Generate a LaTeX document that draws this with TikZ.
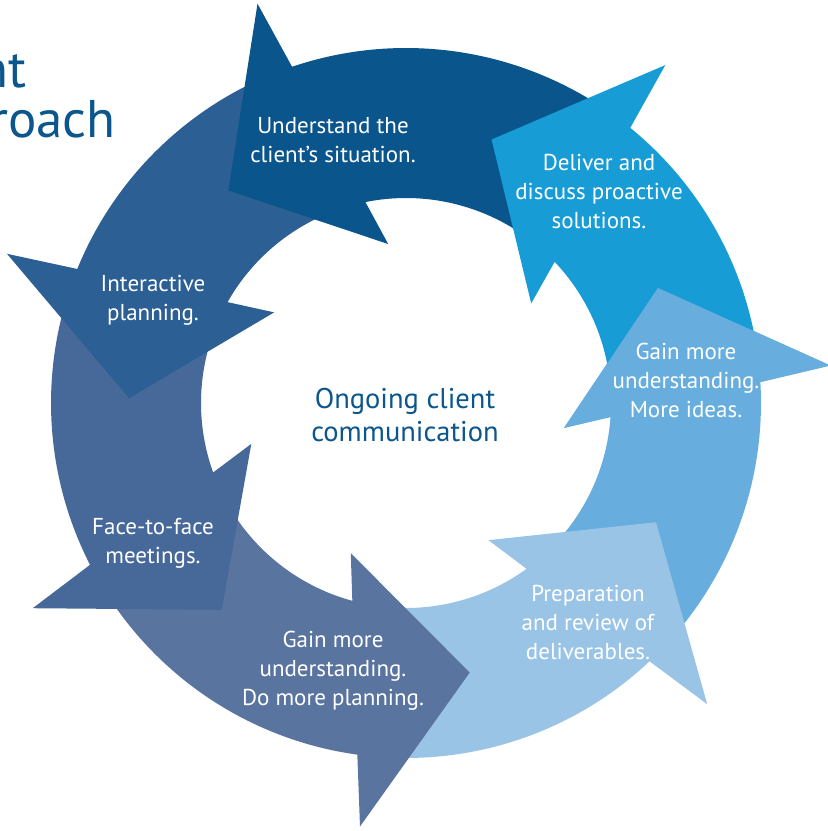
\documentclass[tikz,border=0pt]{standalone}
\usepackage{fontspec}
\setmainfont{PT Sans}
\definecolor{cUnd}{HTML}{0A558C}
\definecolor{cInt}{HTML}{2C5F94}
\definecolor{cFace}{HTML}{46699A}
\definecolor{cBot}{HTML}{5A74A0}
\definecolor{cPrep}{HTML}{9AC4E6}
\definecolor{cGain}{HTML}{67AEDE}
\definecolor{cDel}{HTML}{189CD6}
\definecolor{cText}{HTML}{0B568C}
% #1 base angle, #2 base angle of clockwise neighbour, #3 colour
\newcommand{\RingArrow}[3]{%
  \fill[#3, shift={(406,428)}] ({#1+4}:426) -- ({#1+23.5}:277) -- ({#1-10}:160) -- ({#1-4.98}:205)
    arc[start angle={#1-4.98}, end angle={#2+3}, radius=205]
    -- ({#2+8}:355)
    arc[start angle={#2+8}, end angle={#1+2.32}, radius=355] -- cycle;}
\newcommand{\RingHead}[2]{%
  \fill[#2, shift={(406,428)}] ({#1+4}:426) -- ({#1+23.5}:277) -- ({#1-10}:160) -- cycle;}
\tikzset{
  lbl/.style={text=white, align=center, inner sep=0pt, font=\fontsize{23}{29}\selectfont},
  ctr/.style={text=cText, align=center, inner sep=0pt, font=\fontsize{28.5}{33}\selectfont},
  ttl/.style={text=cText, inner sep=0pt, anchor=base east, font=\fontsize{53}{50}\selectfont}
}
\begin{document}
\begin{tikzpicture}[x=1pt,y=1pt]
\useasboundingbox[fill=white] (0,0) rectangle (828,831);
\RingArrow{1.05}{-49}{cGain}
\RingArrow{311}{259.8}{cPrep}
\RingArrow{259.8}{204.8}{cBot}
\RingArrow{204.8}{155.5}{cFace}
\RingArrow{155.5}{106.4}{cInt}
\RingArrow{106.4}{48.5}{cUnd}
\RingArrow{48.5}{1.05}{cDel}
\RingHead{1.05}{cGain}
\node[lbl] (und) at (333,691) {Understand the\\client’s situation.};
\node[lbl] (del) at (599,639.5) {Deliver and\\discuss proactive\\solutions.};
\node[lbl] (gain) at (686,451) {Gain more\\understanding.\\More ideas.};
\node[lbl] (prep) at (588,209) {Preparation\\and review of\\deliverables.};
\node[lbl] (bot) at (333,160) {Gain more\\understanding.\\Do more planning.};
\node[lbl] (face) at (153,287.5) {Face-to-face\\meetings.};
\node[lbl] (inter) at (153,531) {Interactive\\planning.};
\node[ctr] (center) at (405,415.5) {Ongoing client\\communication};
\node[ttl] (t1) at (27,743) {nt};
\node[ttl] (t2) at (116,693) {roach};
\end{tikzpicture}
\end{document}
